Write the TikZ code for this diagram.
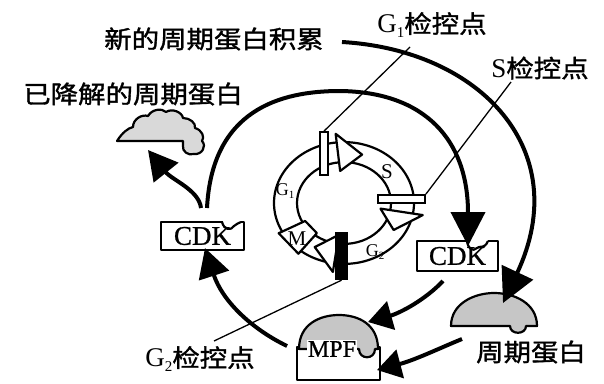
\documentclass[tikz,border=0pt]{standalone}
\usepackage{fontspec}
\setmainfont{Liberation Serif}
\newfontfamily\cjk[FakeStretch=1.12,FakeBold=1.4]{Noto Sans CJK SC}
\newfontfamily\heavyserif[FakeBold=0.9]{Liberation Serif}
\usetikzlibrary{arrows.meta}
% phase letter G with a lowered index: size of G, index, size of index
\newcommand\phaseG[3]{{\rmfamily\fontsize{#1}{#1}\selectfont G\raisebox{-0.18em}{\fontsize{#3}{#3}\selectfont #2}}}
\begin{document}
\begin{tikzpicture}[x=1pt,y=-1pt,
  flow/.style={line width=4pt},
  bigtip/.style={-{Triangle[length=34pt,width=34pt]}},
  midtip/.style={-{Triangle[length=29pt,width=31pt]}},
  smalltip/.style={-{Triangle[length=24pt,width=29pt]}},
  leader/.style={line width=1.3pt},
  outline/.style={line width=2.2pt, line join=round},
  ringline/.style={line width=2.2pt},
  ringhead/.style={ringline, fill=white, line join=round},
  cyclin/.style={outline, fill=gray!45},
  cjklabel/.style={font=\cjk\fontsize{24.5}{26}\selectfont, inner sep=0pt},
  cdkbox/.style={draw, outline, fill=white, inner sep=0pt,
    font=\heavyserif\fontsize{27}{28}\selectfont},
  phase/.style={inner sep=0pt, font=\rmfamily\fontsize{21}{21}\selectfont},
]
\useasboundingbox (0,0) rectangle (604,383);

% ---------- labels ----------
\node[cjklabel] (newcyc) at (214,39) {新的周期蛋白积累};
\node[cjklabel] (degraded) at (133,94) {已降解的周期蛋白};
\node[cjklabel] (cyclab) at (531,352) {周期蛋白};
\node[cjklabel] (g1lab) at (432,25) {\phaseG{27}{1}{15}检控点};
\node[cjklabel] (slab) at (540,68) {{\rmfamily\fontsize{27}{28}\selectfont S}检控点};
\node[cjklabel] (g2lab) at (200,359) {\phaseG{27}{2}{15}检控点};

% ---------- cell cycle ring ----------
\begin{scope}[shift={(344,203)}, yscale=-0.87]
  \draw[ringline] (0,0) circle [radius=70];
  \draw[ringline] (0,0) circle [radius=47];
  \filldraw[ringhead] (96:37) -- (96:80) -- (72:58.5) -- cycle;
  \filldraw[ringhead] (-10:37) -- (-10:80) -- (-32:58.5) -- cycle;
  \filldraw[ringhead] (-98:37) -- (-98:80) -- (-120:58.5) -- cycle;
  \filldraw[ringhead] (-128:44) -- (-128:74) -- (-152:74) -- (-152:44) -- cycle;
\end{scope}
\node[phase] (sphase) at (387,172) {S};
\node[phase] (g1phase) at (285,191) {\phaseG{18}{1}{11}};
\node[phase] (g2phase) at (375,252) {\phaseG{18}{2}{11}};
\node[phase] (mphase) at (297,239) {M};

% checkpoint bars
\node[draw, line width=1.8pt, fill=white, minimum width=8pt, minimum height=43pt, inner sep=0pt] (g1bar) at (324,153.5) {};
\node[draw, line width=1.8pt, fill=white, minimum width=47pt, minimum height=8pt, inner sep=0pt] (sbar) at (401.5,199) {};
\node[fill=black, minimum width=13pt, minimum height=48pt, inner sep=0pt] (g2bar) at (341.5,256) {};

% leader lines of the checkpoints
\coordinate (g1tick) at (410,47);
\coordinate (stick) at (511,82);
\coordinate (g2tick) at (214,341);
\draw[leader] (g1tick) -- (g1bar.north);
\draw[leader] (stick) -- (sbar.north east);
\draw[leader] (g2tick) -- (g2bar.south);

% ---------- CDK boxes ----------
\node[cdkbox, minimum width=83pt, minimum height=28pt] (cdkL) at (202.5,236) {CDK};
\fill[white] (222.5,220.4) rectangle (240.5,223.6);
\draw[outline] (222,222) .. controls (224,230) and (231,231) .. (234,226)
  .. controls (236,223) and (239,224) .. (241,222);

\node[cdkbox, minimum width=81pt, minimum height=30pt] (cdkR) at (457.5,256) {CDK\hspace{6pt}};
\fill[white] (467.5,239.4) rectangle (487.5,242.6);
\draw[outline] (467,241) .. controls (468,249) and (473,252) .. (477,248)
  .. controls (480,245) and (484,250) .. (488,241);

% ---------- cyclin ----------
\filldraw[cyclin] (451,326) .. controls (451,303) and (475,293) .. (494,293)
  .. controls (514,293) and (537,303) .. (537,326) -- (526,326)
  .. controls (526,335) and (510,335) .. (510,326) -- cycle;

% degraded cyclin
\filldraw[cyclin, fill=gray!30] (117,141) .. controls (122,133) and (128,128) .. (133,127)
  .. controls (133,119) and (142,114) .. (148,116)
  .. controls (152,109) and (162,108) .. (166,112)
  .. controls (172,108) and (182,112) .. (183,118)
  .. controls (190,118) and (196,123) .. (195,128)
  .. controls (202,130) and (205,137) .. (202,141)
  .. controls (207,146) and (202,155) .. (194,154)
  .. controls (188,156) and (182,151) .. (183,146) -- (183,141) -- cycle;

% ---------- MPF complex ----------
\draw[outline, fill=white] (297,347) rectangle (380,380);
\filldraw[cyclin] (299,349) .. controls (299,324) and (320,315) .. (339,315)
  .. controls (358,315) and (378,324) .. (378,349) -- (375,349)
  .. controls (375,360) and (359,360) .. (359,349) -- cycle;
\node[fill=white, inner sep=1pt, font=\heavyserif\fontsize{24}{24}\selectfont] (mpf) at (332,349) {MPF};

% ---------- flows ----------
\coordinate (accStart) at (342,42);
\coordinate (cycTop) at (503,303);
\coordinate (cdkLtopA) at (207,208);
\coordinate (cdkLtopB) at (201,208);
\coordinate (cdkRnotch) at (468,246);
\coordinate (degrBase) at (148,150);
\coordinate (mpfLeft) at (287,346);
\coordinate (cdkLbottom) at (205,248);
\coordinate (cdkRbottom) at (443,281);
\coordinate (mpfDome) at (368,322);
\coordinate (cycLeft) at (462,339);
\coordinate (mpfSide) at (377,370);

\draw[flow, bigtip] (accStart) .. controls (480,50) and (575,150) .. (cycTop);
\draw[flow, bigtip] (cdkLtopA) .. controls (212,110) and (280,91) .. (340,91)
  .. controls (425,92) and (468,140) .. (cdkRnotch);
\draw[flow, midtip] (cdkLtopB) .. controls (199,190) and (172,180) .. (degrBase);
\draw[flow, midtip] (mpfLeft) .. controls (250,328) and (222,300) .. (cdkLbottom);
\draw[flow, smalltip] (cdkRbottom) .. controls (425,300) and (400,313) .. (mpfDome);
\draw[flow, smalltip] (cycLeft) .. controls (440,348) and (415,360) .. (mpfSide);
\end{tikzpicture}
\end{document}
